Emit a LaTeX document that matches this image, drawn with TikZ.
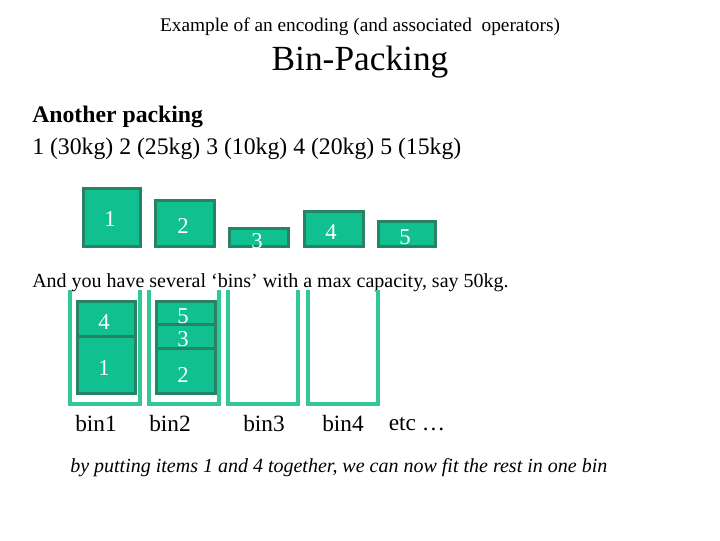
\documentclass[tikz,border=0pt]{standalone}
\usepackage{fontspec}
\setmainfont{Liberation Serif}
\usetikzlibrary{positioning}
\definecolor{itemfill}{RGB}{16,192,144}
\definecolor{itemedge}{RGB}{40,130,100}
\definecolor{binedge}{RGB}{50,200,150}
\tikzset{
  item/.style={draw=itemedge, line width=2.2pt, fill=itemfill, inner sep=0pt, anchor=south west},
  num/.style={text=white, inner sep=0pt, font=\fontsize{17}{17}\selectfont},
  lbl/.style={inner sep=0pt, font=\fontsize{17.5}{17.5}\selectfont}
}
\begin{document}
\begin{tikzpicture}[x=0.75pt, y=-0.75pt]
\useasboundingbox (0,0) rectangle (720,540);

\node (title) at (360,27) {\fontsize{14.5}{14.5}\selectfont Example of an encoding (and associated\ \ operators)};
\node (head) at (360,62) {\fontsize{26.5}{26.5}\selectfont Bin-Packing};
\node[anchor=west, inner sep=0pt] (another) at (32,117) {\fontsize{17.8}{17.8}\selectfont\bfseries Another packing};
\node[anchor=west, inner sep=0pt] (list) at (32,149) {\fontsize{17.8}{17.8}\selectfont 1 (30kg) 2 (25kg) 3 (10kg) 4 (20kg) 5 (15kg)};

% items
\node[item, minimum width=43pt, minimum height=43.5pt] (i1) at (82,248) {};
\node[item, minimum width=44pt, minimum height=34.5pt] (i2) at (154,248) {};
\node[item, minimum width=44pt, minimum height=13.5pt] (i3) at (228,248) {};
\node[item, minimum width=44pt, minimum height=26pt] (i4) at (303,248) {};
\node[item, minimum width=43pt, minimum height=19pt] (i5) at (377,248) {};
\node[num] at (110,219) {1};
\node[num] at (183,226) {2};
\node[num] at (257,241) {3};
\node[num] at (331,232) {4};
\node[num] at (405,237) {5};

\node[anchor=west, inner sep=0pt] (say) at (32,283) {\fontsize{15}{15}\selectfont And you have several `bins' with a max capacity, say 50kg.};

% bins
\foreach \n/\x in {1/70,2/149,3/228,4/308}{
  \coordinate (b\n tl) at (\x,290);
  \coordinate (b\n tr) at (\x+70,290);
  \draw[binedge, line width=2.5pt] (b\n tl) -- ++(0,114) -| (b\n tr);
}
% packed items
\node[item, minimum width=43.5pt, minimum height=26pt] (p4) at (76,338) {};
\node[item, minimum width=43.5pt, minimum height=43pt] (p1) at (76,395) {};
\node[item, minimum width=44pt, minimum height=17.5pt] (p5) at (155,326) {};
\node[item, minimum width=44pt, minimum height=18pt] (p3) at (155,350) {};
\node[item, minimum width=44pt, minimum height=34pt] (p2) at (155,395) {};
\node[num] at (104,322) {4};
\node[num] at (104,368) {1};
\node[num] at (183,316) {5};
\node[num] at (183,339) {3};
\node[num] at (183,375) {2};

\node[lbl] (l1) at (96,424) {bin1};
\node[lbl] (l2) at (170,424) {bin2};
\node[lbl] (l3) at (264,424) {bin3};
\node[lbl] (l4) at (343,424) {bin4};
\node[lbl] (etc) at (417,424) {etc \dots};

\node[anchor=west, inner sep=0pt] (note) at (70,468) {\fontsize{15}{15}\selectfont\itshape by putting items 1 and 4 together, we can now fit the rest in one bin};
\end{tikzpicture}
\end{document}
